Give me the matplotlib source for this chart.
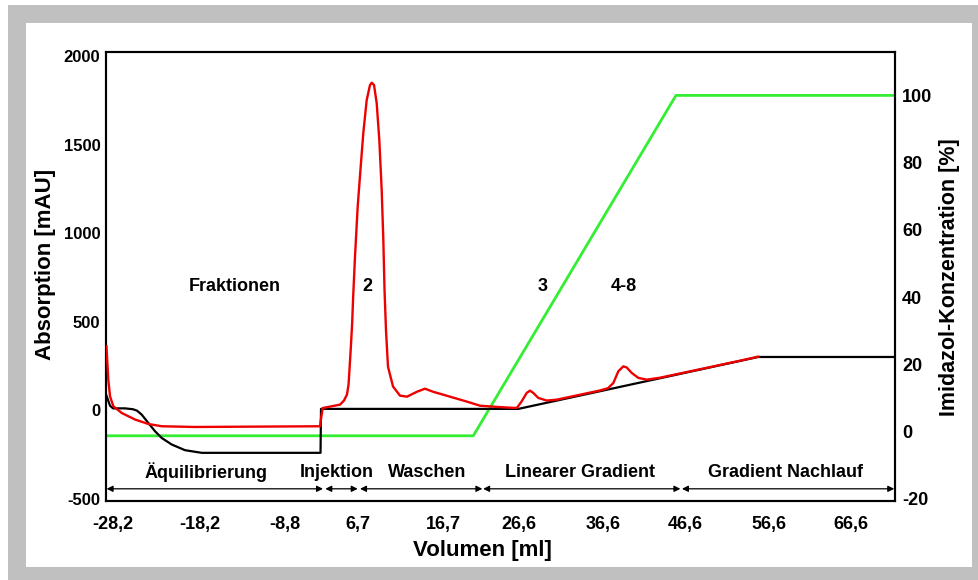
import matplotlib
matplotlib.use("Agg")
import matplotlib.pyplot as plt
from matplotlib.patches import Rectangle

plt.rcParams['font.family'] = ['Liberation Sans', 'DejaVu Sans']
plt.rcParams['font.weight'] = 'bold'
plt.rcParams['axes.unicode_minus'] = False

# x = position along the run (0..100 % of the plotted width),
# ticks carry the volume labels [ml] as printed on the chart
x_tick_pos = [0.89, 11.9, 22.7, 31.9, 42.7, 52.3, 63.0, 73.4, 84.0, 94.4]
x_tick_labels = ["-28,2", "-18,2", "-8,8", "6,7", "16,7", "26,6", "36,6", "46,6", "56,6", "66,6"]

# UV absorption [mAU] (red)
uv_x = [0.06, 0.29, 0.51, 0.93, 1.99, 3.68, 5.36, 7.06, 11.28, 27.12,
        27.31, 27.47, 28.39, 29.66, 30.16, 30.54, 30.74, 30.86, 31.05, 31.20,
        31.31, 31.56, 31.90, 32.28, 32.61, 33.04, 33.46, 33.68, 33.97, 34.31,
        34.64, 34.94, 35.15, 35.30, 35.49, 35.74, 36.38, 37.26, 38.15, 39.42,
        40.43, 41.44, 43.60, 45.75, 47.40, 49.94, 51.58, 52.09, 52.69, 53.32,
        53.74, 54.16, 54.79, 55.86, 57.12, 60.08, 62.61, 63.63, 64.30, 64.93,
        65.56, 65.99, 66.63, 67.47, 68.53, 70.22, 75.29, 80.35, 82.67]
uv_y = [361, 173, 79, 23, -15, -52, -77, -90, -94, -90,
        -30, 13, 21, 32, 55, 89, 145, 229, 370, 493,
        624, 868, 1150, 1375, 1564, 1751, 1836, 1849, 1836, 1733,
        1526, 1244, 962, 680, 450, 246, 134, 83, 77, 105,
        122, 105, 77, 49, 26, 18, 14, 14, 51, 98,
        111, 98, 70, 55, 60, 88, 112, 125, 154, 220,
        248, 242, 211, 183, 173, 184, 232, 280, 303]

# conductivity-like trace (black), left axis units
cond_x = [0.06, 0.51, 0.89, 2.41, 3.42, 3.93, 4.52, 5.36, 6.21, 7.06,
          8.33, 10.01, 12.13, 27.19, 27.25, 52.26, 82.67, 100]
cond_y = [83, 26, 11, 11, 6, -2, -24, -71, -118, -156,
          -193, -225, -240, -240, 8, 8, 301, 301]

# imidazole concentration [%] (green, right axis)
imi_x = [0, 46.55, 72.24, 100]
imi_y = [-1.25, -1.25, 100, 100]

# phase arrows along the bottom
phases = ["Äquilibrierung", "Injektion", "Waschen", "Linearer Gradient", "Gradient Nachlauf"]
phase_start = [0.08, 27.8, 32.2, 47.8, 73.0]
phase_end = [27.5, 31.9, 47.7, 72.8, 99.9]
phase_text_x = [12.67, 29.3, 40.7, 60.1, 86.1]

# fraction labels
frac_labels = ["Fraktionen", "2", "3", "4-8"]
frac_x = [16.35, 33.12, 55.35, 65.69]

fig = plt.figure(figsize=(9.79, 5.8), dpi=100)
fig.patch.set_facecolor('white')
fig.patches.append(Rectangle((8/979, 0), 1 - 8/979, 575/580, transform=fig.transFigure,
                             facecolor='#c0c0c0', edgecolor='none', zorder=-2))
fig.patches.append(Rectangle((26/979, 13.3/580), 945.7/979, 543.7/580, transform=fig.transFigure,
                             facecolor='white', edgecolor='none', zorder=-1))

ax = fig.add_axes([106/979, 1 - 500.5/580, 789/979, 448.8/580])
ax2 = ax.twinx()

ax2.plot(imi_x, imi_y, color='#33ee33', lw=2.0)
ax.plot(cond_x, cond_y, color='black', lw=1.6, zorder=3)
ax.plot(uv_x, uv_y, color='#ee0000', lw=1.7, zorder=4)
ax.set_zorder(ax2.get_zorder() + 1)
ax.patch.set_visible(False)

ax.set_xlim(0, 100)
ax.set_ylim(-509, 2024)
ax2.set_ylim(-20.5, 113)

ax.set_xticks(x_tick_pos)
ax.set_xticklabels(x_tick_labels)
ax.set_yticks([-500, 0, 500, 1000, 1500, 2000])
ax2.set_yticks([-20, 0, 20, 40, 60, 80, 100])
ax.tick_params(axis='x', length=0, pad=11, labelsize=13)
ax.tick_params(axis='y', length=0, pad=4, labelsize=12)
ax2.tick_params(axis='y', length=0, pad=5, labelsize=13)

for a in (ax, ax2):
    for s in a.spines.values():
        s.set_linewidth(1.5)

ax.set_xlabel("Volumen [ml]", fontsize=16, fontweight='bold')
ax.set_ylabel("Absorption [mAU]", fontsize=16, fontweight='bold')
ax2.set_ylabel("Imidazol-Konzentration [%]", fontsize=15.5, fontweight='bold')
ax.xaxis.set_label_coords(0.4766, -0.1125)
ax.xaxis.label.set_va('center')
ax.yaxis.set_label_coords(-0.0773, 0.525)
ax.yaxis.label.set_va('center')
ax2.yaxis.set_label_coords(1.0697, 0.4987)
ax2.yaxis.label.set_va('center')

for x0, x1, xt, name in zip(phase_start, phase_end, phase_text_x, phases):
    ax.annotate('', xy=(x1, -443), xytext=(x0, -443),
                arrowprops=dict(arrowstyle='<|-|>', color='black', lw=0.9,
                                mutation_scale=9, shrinkA=0, shrinkB=0))
    ax.text(xt, -351, name, ha='center', va='center', fontsize=13, fontweight='bold')

for xt, name in zip(frac_x, frac_labels):
    ax.text(xt, 696, name, ha='center', va='center', fontsize=13, fontweight='bold')

fig.savefig("out.png", dpi=100)
